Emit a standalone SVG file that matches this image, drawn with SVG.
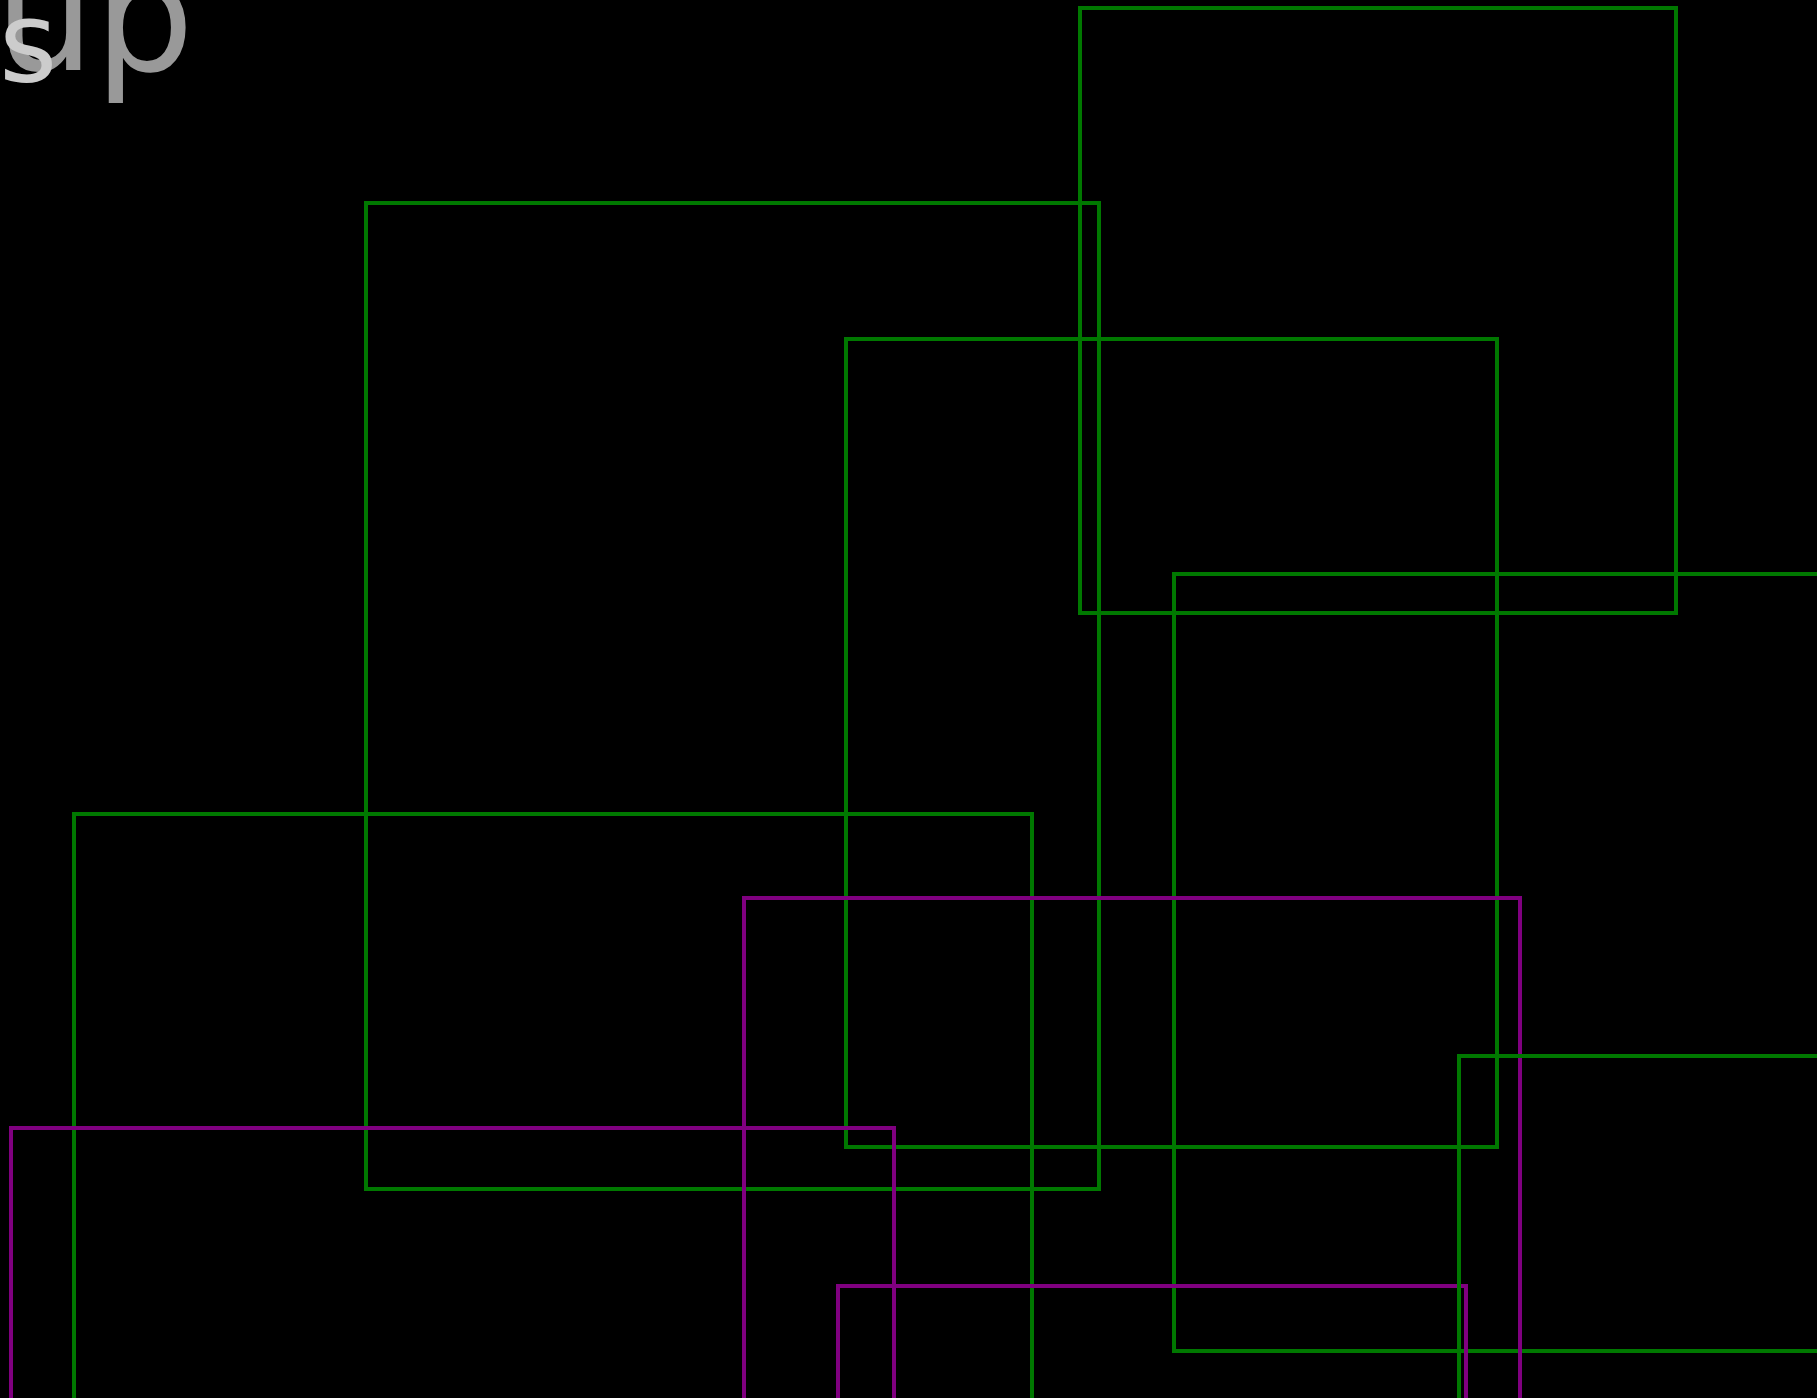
<svg xmlns="http://www.w3.org/2000/svg" width="1817" height="1398" viewBox="0 0 1817 1398">
<style>
.g{fill:none;stroke:#007800;stroke-width:4}
.m{fill:none;stroke:#800080;stroke-width:4}
.t{font-family:"DejaVu Sans",sans-serif}
</style>
<rect x="0" y="0" width="1817" height="1398" fill="#000"/>
<g id="label">
<text class="t" x="-5" y="70" font-size="157" fill="#999">up</text>
<text class="t" x="-1" y="81" font-size="112" fill="#ccc">s</text>
</g>
<g id="connectors"></g>
<g id="n1"><rect class="g" x="1080" y="8" width="596" height="605"/></g>
<g id="n2"><rect class="g" x="366" y="203" width="733" height="986"/></g>
<g id="n3"><rect class="g" x="846" y="339" width="651" height="808"/></g>
<g id="n4"><rect class="g" x="1174" y="574" width="700" height="777"/></g>
<g id="n5"><rect class="g" x="74" y="814" width="958" height="700"/></g>
<g id="n6"><rect class="m" x="744" y="898" width="776" height="600"/></g>
<g id="n7"><rect class="m" x="11" y="1128" width="883" height="400"/></g>
<g id="n8"><rect class="m" x="838" y="1286" width="628" height="300"/></g>
<g id="n9"><rect class="g" x="1459" y="1056" width="500" height="500"/></g>
</svg>
